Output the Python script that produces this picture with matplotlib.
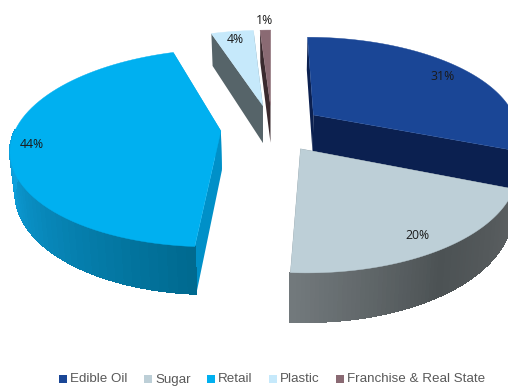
import numpy as np
import matplotlib
matplotlib.use("Agg")
import matplotlib.pyplot as plt
from matplotlib.collections import PolyCollection
from matplotlib.colors import LinearSegmentedColormap
from matplotlib.patches import Polygon, Rectangle

categories = ["Edible Oil", "Sugar", "Retail", "Plastic", "Franchise & Real State"]
values = [31, 20, 44, 4, 1]
labels = ["31%", "20%", "44%", "4%", "1%"]

top_colors = ["#1a4696", "#bdcfd7", "#00b0f0", "#c6e9fb", "#8a6a73"]
wall_colors = ["#0b2050", "#5c6062", "#0090c8", "#566469", "#3a2a2e"]
rim_colors = [
    ["#0b2050", "#0b2050"],
    ["#5c6062", "#4c5254", "#72797c"],
    ["#006a90", "#0ea0dc", "#0ea0dc"],
    ["#566469", "#566469"],
    ["#3a2a2e", "#3a2a2e"],
]
label_radius = [0.86, 0.86, 0.90, 0.90, 1.18]
draw_order = [0, 3, 4, 2, 1]

# projection of the tilted pie
cx, cy = 272, 128
rx, ry = 205, 95
persp = 0.17
explode = 0.25
depth = 39
taper = 0.02


def project(u, v, down=0.0):
    s = 1 / (1 - persp * np.asarray(v))
    narrow = 1 - taper * down / depth
    return cx + rx * np.asarray(u) * s * narrow, cy + ry * np.asarray(v) * s + down * s


def wedge_points(start, end, offset, radius=1.0, n=70):
    t = np.linspace(start, end, n)
    return t, offset[0] + radius * np.sin(t), offset[1] - radius * np.cos(t)


def quad(p0, p1, offset_down=depth):
    x0, y0 = project(*p0)
    x1, y1 = project(*p1)
    x2, y2 = project(*p1, down=offset_down)
    x3, y3 = project(*p0, down=offset_down)
    return [(x0, y0), (x1, y1), (x2, y2), (x3, y3)]


fig = plt.figure(figsize=(5.08, 3.86), dpi=100)
ax = fig.add_axes([0, 0, 1, 1])
ax.set_xlim(0, 508)
ax.set_ylim(386, 0)
ax.axis("off")

fractions = np.array(values) / sum(values)
edges = np.concatenate([[0], np.cumsum(fractions)]) * 2 * np.pi

for i in draw_order:
    start, end = edges[i], edges[i + 1]
    mid = (start + end) / 2
    offset = (explode * np.sin(mid), -explode * np.cos(mid))
    t, u, v = wedge_points(start, end, offset)

    # radial cut faces
    for k in (0, -1):
        ax.add_patch(Polygon(quad(offset, (u[k], v[k])), closed=True,
                             fc=wall_colors[i], ec="none"))

    # outer rim, shaded along the arc; the far side stays hidden
    cmap = LinearSegmentedColormap.from_list("rim", rim_colors[i])
    front = [j for j in range(len(u) - 1) if np.cos(t[j]) < 0]
    if front:
        quads = [quad((u[j], v[j]), (u[j + 1], v[j + 1])) for j in front]
        shades = [cmap(j / (len(u) - 2)) for j in front]
        ax.add_collection(PolyCollection(quads, facecolors=shades, edgecolors=shades,
                                         linewidths=0.8, antialiaseds=False))

    # top face
    xs, ys = project(np.r_[offset[0], u], np.r_[offset[1], v])
    ax.add_patch(Polygon(np.column_stack([xs, ys]), closed=True,
                         fc=top_colors[i], ec=top_colors[i], lw=0.3))

    lx, ly = project(offset[0] + label_radius[i] * np.sin(mid),
                     offset[1] - label_radius[i] * np.cos(mid))
    ax.text(lx, ly + 2, labels[i], ha="center", va="center", fontsize=8.8,
            family="Open Sans", color="#1a1a1a")

# legend along the bottom edge
legend_x = [59, 144, 207, 269, 336]
for name, color, x in zip(categories, top_colors, legend_x):
    ax.add_patch(Rectangle((x, 375), 8, 8, fc=color, ec="none"))
    ax.text(x + 11, 382.5, name, ha="left", va="baseline", fontsize=9.6,
            family="Liberation Sans", color="#595959")

fig.savefig("out.png", dpi=100)
